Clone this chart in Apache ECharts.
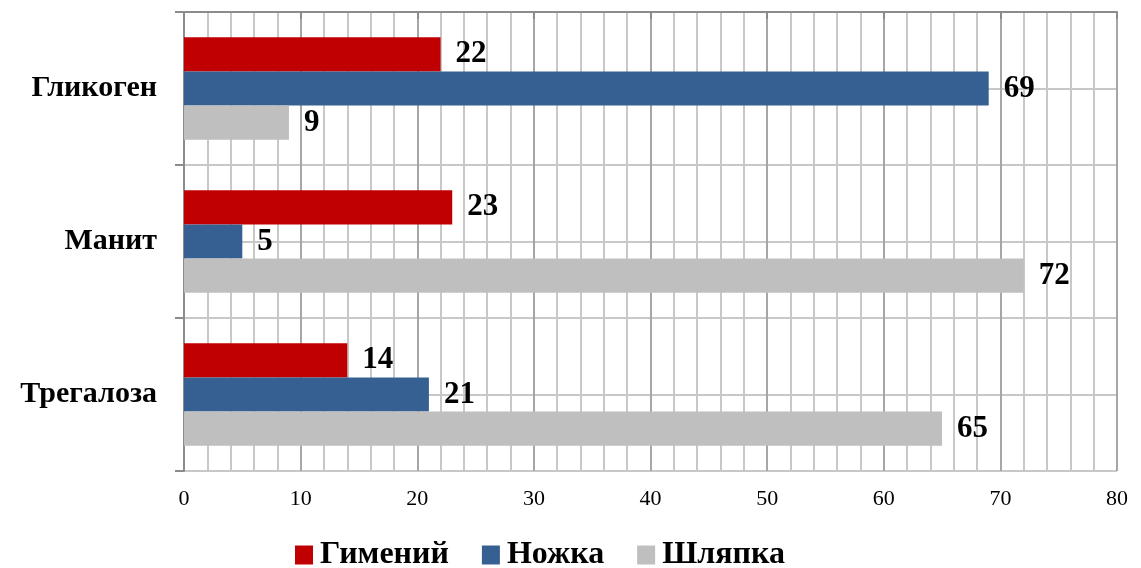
<!DOCTYPE html>
<html lang="ru">
    <head>
        <meta charset="UTF-8" />
        <title>Углеводы</title>
        <script src="https://cdn.jsdelivr.net/npm/echarts@6/dist/echarts.min.js"></script>
        <style>
            html, body { margin: 0; padding: 0; background: #fff; }
            #chart { width: 1141px; height: 568px; }
        </style>
    </head>
    <body>
        <div id="chart"></div>
        <script>
            const categories = ["Гликоген", "Манит", "Трегалоза"];
            const seriesNames = ["Гимений", "Ножка", "Шляпка"];
            const gimenij = [22, 23, 14];
            const nozhka = [69, 5, 21];
            const shlyapka = [9, 72, 65];
            const colors = ["#c00000", "#376092", "#bfbfbf"];

            const serif = "'Liberation Serif', 'Times New Roman', serif";

            //one bar series per part of the fungus
            function barSeries(name, data, color) {
                return {
                    name: name,
                    type: "bar",
                    data: data,
                    barGap: "0%",
                    barCategoryGap: "33%",
                    itemStyle: { color: color },
                    label: {
                        show: true,
                        position: "right",
                        distance: 15,
                        color: "#000",
                        fontFamily: serif,
                        fontWeight: "bold",
                        fontSize: 31,
                    },
                };
            }

            const chart = echarts.init(document.getElementById("chart"));
            chart.setOption({
                animation: false,
                color: colors,
                grid: { left: 184, right: 24, top: 12, bottom: 97 },
                legend: {
                    left: 290,
                    top: 534,
                    itemWidth: 18,
                    itemHeight: 19,
                    itemGap: 33,
                    icon: "rect",
                    textStyle: { fontFamily: serif, fontWeight: "bold", fontSize: 32, color: "#000", padding: [0, 0, 0, 2] },
                    data: seriesNames,
                },
                xAxis: {
                    type: "value",
                    min: 0,
                    max: 80,
                    interval: 10,
                    axisLine: { show: true, lineStyle: { color: "#8c8c8c", width: 2 } },
                    axisTick: { show: true, length: 7, lineStyle: { color: "#8c8c8c", width: 2 } },
                    axisLabel: { margin: 17, fontFamily: serif, fontSize: 22, color: "#000" },
                    splitLine: { show: true, lineStyle: { color: "#a6a6a6", width: 2 } },
                    minorTick: { show: false, splitNumber: 5 },
                    minorSplitLine: { show: true, lineStyle: { color: "#c8c8c8", width: 2 } },
                },
                yAxis: [
                    {
                        type: "category",
                        data: categories,
                        inverse: true,
                        axisLine: { show: true, lineStyle: { color: "#8c8c8c", width: 2 } },
                        axisTick: { show: true, length: 9, lineStyle: { color: "#8c8c8c", width: 2 } },
                        axisLabel: { margin: 27, fontFamily: serif, fontWeight: "bold", fontSize: 30, color: "#000" },
                        splitLine: { show: true, lineStyle: { color: "#c0c0c0", width: 2 } },
                    },
                    {
                        //half-category grid lines
                        type: "value",
                        min: 0,
                        max: 6,
                        interval: 1,
                        inverse: true,
                        position: "right",
                        axisLine: { show: false },
                        axisTick: { show: false },
                        axisLabel: { show: false },
                        splitLine: { show: true, lineStyle: { color: "#c8c8c8", width: 2 } },
                        z: 0,
                    },
                ],
                series: [
                    barSeries(seriesNames[0], gimenij, colors[0]),
                    barSeries(seriesNames[1], nozhka, colors[1]),
                    barSeries(seriesNames[2], shlyapka, colors[2]),
                ],
            });
        </script>
    </body>
</html>
